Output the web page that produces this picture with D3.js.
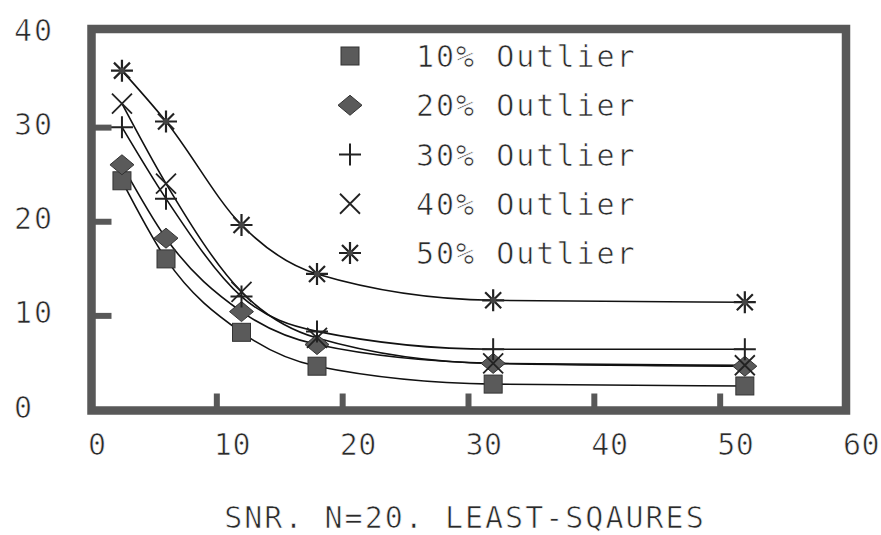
<!DOCTYPE html>
<html>
<head>
<meta charset="utf-8">
<script src="https://cdn.jsdelivr.net/npm/d3@7"></script>
<style>
  html, body { margin: 0; padding: 0; background: #fff; }
  svg { display: block; }
  text {
    font-family: "DejaVu Sans Mono", "Liberation Mono", monospace;
    fill: #2a2a2a;
    font-size: 30px;
    letter-spacing: 2px;
    /* thin white outline on top of the glyphs for a lighter stroke */
    stroke: #fff;
    stroke-width: 0.7px;
    paint-order: fill;
  }
  .x-label { letter-spacing: 0.5px; }
</style>
</head>
<body>
<svg id="chart" width="881" height="535"></svg>
<script>
// SNR values (x) and error measure per outlier percentage
const snr = [2.5, 6, 12, 18, 32, 52];
const outlier10 = [24.3, 16.0, 8.2, 4.6, 2.7, 2.5];
const outlier20 = [26.0, 18.2, 10.4, 6.9, 4.9, 4.6];
const outlier30 = [30.0, 22.4, 12.0, 8.3, 6.4, 6.4];
const outlier40 = [32.5, 24.0, 12.5, 7.6, 4.9, 4.7];
const outlier50 = [36.0, 30.6, 19.6, 14.4, 11.6, 11.4];

const seriesNames = ["10% Outlier", "20% Outlier", "30% Outlier", "40% Outlier", "50% Outlier"];
const seriesValues = [outlier10, outlier20, outlier30, outlier40, outlier50];
const markerKinds = ["square", "diamond", "plus", "cross", "asterisk"];

const xTicks = [0, 10, 20, 30, 40, 50, 60];
const yTicks = [0, 10, 20, 30, 40];
const titleText = "SNR. N=20. LEAST-SQAURES";

const svg = d3.select("#chart");
const x = d3.scaleLinear().domain([0, 60]).range([90.5, 845.5]);
const y = d3.scaleLinear().domain([0, 40]).range([409.5, 33]);

const frameColor = "#585858";
const markFill = "#5a5a5a";

// marker shapes
function drawMarker(g, kind) {
  if (kind === "square") {
    g.append("rect").attr("x", -9).attr("y", -9).attr("width", 18).attr("height", 18)
      .attr("fill", markFill).attr("stroke", "#333").attr("stroke-width", 1);
  } else if (kind === "diamond") {
    g.append("path").attr("d", "M0,-10L12,0L0,10L-12,0Z")
      .attr("fill", markFill).attr("stroke", "#333").attr("stroke-width", 1);
  } else if (kind === "plus") {
    g.append("path").attr("d", "M0,-11V11M-11,0H11")
      .attr("stroke", "#222").attr("stroke-width", 2).attr("fill", "none");
  } else if (kind === "cross") {
    g.append("path").attr("d", "M-10,-10L10,10M-10,10L10,-10")
      .attr("stroke", "#222").attr("stroke-width", 1.8).attr("fill", "none");
  } else if (kind === "asterisk") {
    g.append("path").attr("d", "M0,-11V11M-11,0H11M-8,-8L8,8M-8,8L8,-8")
      .attr("stroke", "#222").attr("stroke-width", 2.2).attr("fill", "none");
    g.append("circle").attr("r", 3).attr("fill", "#444");
  }
}

// series lines
const line = d3.line()
  .x((d, i) => x(snr[i]))
  .y(d => y(d))
  .curve(d3.curveMonotoneX);

const plot = svg.append("g");
seriesValues.forEach((vals) => {
  plot.append("path")
    .attr("d", line(vals))
    .attr("fill", "none")
    .attr("stroke", "#111")
    .attr("stroke-width", 1.6);
});
seriesValues.forEach((vals, s) => {
  vals.forEach((v, i) => {
    const g = plot.append("g").attr("transform", `translate(${x(snr[i])},${y(v)})`);
    drawMarker(g, markerKinds[s]);
  });
});

// frame
svg.append("rect")
  .attr("x", 91.5).attr("y", 29)
  .attr("width", 846 - 91.5).attr("height", 410.5 - 29)
  .attr("fill", "none")
  .attr("stroke", frameColor)
  .attr("stroke-width", 8.5);

// x axis: inward ticks, labels set at the tick's left
const xAxis = d3.axisBottom(x).tickValues(xTicks).tickSize(-17).tickFormat(d3.format("d"));
const gx = svg.append("g").attr("transform", "translate(0,410.5)").call(xAxis);
gx.attr("font-size", null).attr("font-family", null);
gx.select(".domain").remove();
gx.selectAll(".tick line")
  .attr("stroke", frameColor).attr("stroke-width", 6)
  .attr("display", d => (d === 0 || d === 60) ? "none" : null);
gx.selectAll(".tick text")
  .attr("class", "x-label")
  .attr("y", 44).attr("dy", 0)
  .attr("text-anchor", "start")
  .attr("x", -3)
  .attr("fill", "#2a2a2a");

// y axis: inward ticks, labels at the left margin
const yAxis = d3.axisLeft(y).tickValues(yTicks).tickSize(-20).tickFormat(d3.format("d"));
const gy = svg.append("g").attr("transform", "translate(91.5,0)").call(yAxis);
gy.attr("font-size", null).attr("font-family", null);
gy.select(".domain").remove();
gy.selectAll(".tick line")
  .attr("stroke", frameColor).attr("stroke-width", 6)
  .attr("display", d => (d === 0 || d === 40) ? "none" : null);
gy.selectAll(".tick text")
  .attr("x", 14 - 91.5).attr("dy", 0).attr("y", 7.5)
  .attr("text-anchor", "start")
  .attr("fill", "#2a2a2a");

// legend
const legendY = d3.scalePoint().domain(seriesNames).range([56, 253]);
seriesNames.forEach((name, s) => {
  const g = svg.append("g").attr("transform", `translate(350,${legendY(name)})`);
  drawMarker(g, markerKinds[s]);
  svg.append("text")
    .attr("x", 416).attr("y", legendY(name) + 11)
    .text(name);
});

// title
svg.append("text")
  .attr("x", 465).attr("y", 528)
  .attr("text-anchor", "middle")
  .text(titleText);
</script>
</body>
</html>
